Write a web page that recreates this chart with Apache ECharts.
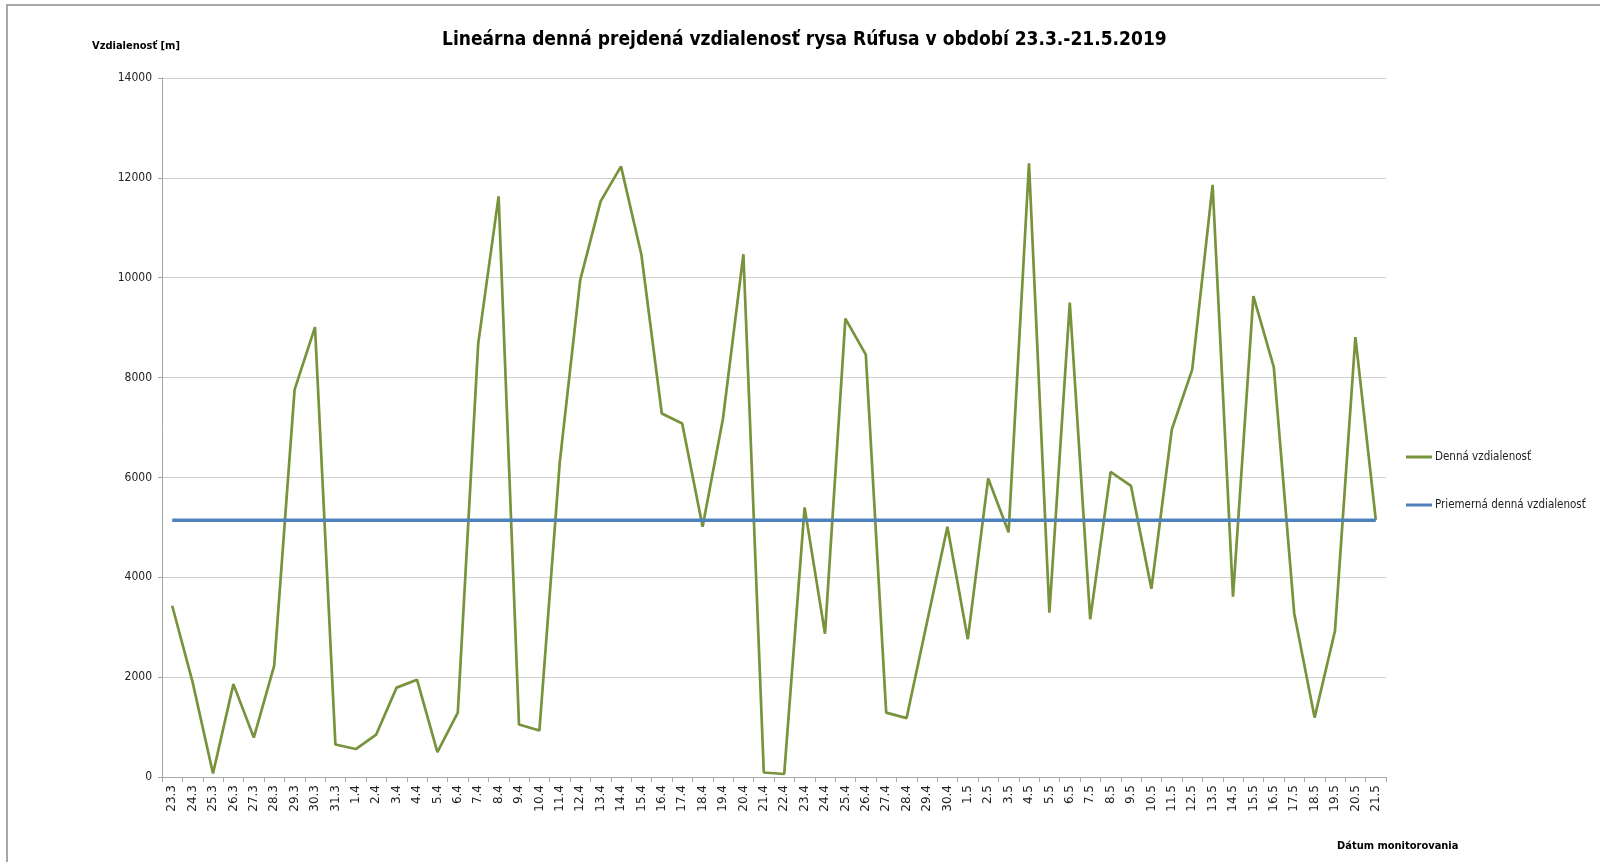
<!DOCTYPE html>
<html>
<head>
<meta charset="utf-8">
<title>Denná vzdialenosť rysa Rúfusa</title>
<script src="https://cdn.jsdelivr.net/npm/echarts@6/dist/echarts.min.js"></script>
<style>
  html, body { margin: 0; padding: 0; background: #fff; }
  #chart { width: 1600px; height: 862px; }
</style>
</head>
<body>
<div id="chart"></div>
<script>
  // dates of monitoring (day.month)
  const days = [
    "23.3", "24.3", "25.3", "26.3", "27.3", "28.3", "29.3", "30.3", "31.3",
    "1.4", "2.4", "3.4", "4.4", "5.4", "6.4", "7.4", "8.4", "9.4", "10.4",
    "11.4", "12.4", "13.4", "14.4", "15.4", "16.4", "17.4", "18.4", "19.4", "20.4",
    "21.4", "22.4", "23.4", "24.4", "25.4", "26.4", "27.4", "28.4", "29.4", "30.4",
    "1.5", "2.5", "3.5", "4.5", "5.5", "6.5", "7.5", "8.5", "9.5", "10.5",
    "11.5", "12.5", "13.5", "14.5", "15.5", "16.5", "17.5", "18.5", "19.5", "20.5", "21.5"
  ];

  // daily distance in metres
  const dailyDistance = [
    3430, 1900, 70, 1860, 790, 2230, 7760, 9010, 650,
    560, 850, 1790, 1950, 500, 1290, 8680, 11630, 1050, 930,
    6310, 9950, 11530, 12230, 10460, 7280, 7080, 5010, 7180, 10470,
    90, 60, 5400, 2870, 9180, 8460, 1290, 1180, 3100, 5010,
    2760, 5980, 4900, 12290, 3290, 9500, 3160, 6110, 5830, 3770,
    6960, 8160, 11860, 3610, 9630, 8210, 3280, 1190, 2930, 8810, 5150
  ];

  const averageDistance = 5140;

  const yMin = 0;
  const yMax = 14000;
  const yStep = 2000;

  const seriesNames = ["Denná vzdialenosť", "Priemerná denná vzdialenosť"];

  const narrow = "'DejaVu Sans Condensed', 'Liberation Sans Narrow', sans-serif";

  const chart = echarts.init(document.getElementById("chart"));

  chart.setOption({
    animation: false,
    backgroundColor: "#fff",
    title: [
      {
        text: "Lineárna denná prejdená vzdialenosť rysa Rúfusa v období 23.3.-21.5.2019",
        left: 442,
        top: 31,
        padding: 0,
        textStyle: { fontFamily: narrow, fontWeight: "bold", fontSize: 19, color: "#000" }
      },
      {
        text: "Vzdialenosť [m]",
        left: 92,
        top: 41,
        padding: 0,
        textStyle: { fontFamily: narrow, fontWeight: "bold", fontSize: 11, color: "#000" }
      },
      {
        text: "Dátum monitorovania",
        left: 1337,
        top: 841,
        padding: 0,
        textStyle: { fontFamily: narrow, fontWeight: "bold", fontSize: 11, color: "#000" }
      }
    ],
    legend: {
      orient: "vertical",
      left: 1401,
      top: 446,
      itemGap: 36,
      itemWidth: 26,
      itemHeight: 3,
      icon: "rect",
      textStyle: { fontFamily: narrow, fontSize: 11.5, color: "#222", padding: [0, 0, 0, -2] },
      data: seriesNames
    },
    grid: { left: 162, right: 214, top: 78, bottom: 85, containLabel: false },
    xAxis: {
      type: "category",
      data: days,
      boundaryGap: true,
      axisLine: { lineStyle: { color: "#a6a6a6", width: 1 } },
      axisTick: { show: true, length: 5, lineStyle: { color: "#a6a6a6" } },
      axisLabel: {
        rotate: 90,
        interval: 0,
        margin: 8,
        fontFamily: "'DejaVu Sans', sans-serif",
        fontSize: 12,
        color: "#222"
      },
      splitLine: { show: false }
    },
    yAxis: {
      type: "value",
      min: yMin,
      max: yMax,
      interval: yStep,
      axisLine: { show: true, lineStyle: { color: "#a6a6a6", width: 1 } },
      axisTick: { show: true, length: 4, lineStyle: { color: "#a6a6a6" } },
      axisLabel: {
        fontFamily: narrow,
        fontSize: 12,
        color: "#222",
        margin: 10,
        formatter: (v) => String(v)
      },
      splitLine: { lineStyle: { color: "#d0d0d0", width: 1 } }
    },
    series: [
      {
        name: seriesNames[0],
        type: "line",
        data: dailyDistance,
        showSymbol: false,
        symbol: "none",
        lineStyle: { color: "#77933c", width: 2.7 },
        itemStyle: { color: "#77933c" }
      },
      {
        name: seriesNames[1],
        type: "line",
        data: days.map(() => averageDistance),
        showSymbol: false,
        symbol: "none",
        lineStyle: { color: "#4f81bd", width: 3.5 },
        itemStyle: { color: "#4f81bd" }
      }
    ],
    graphic: [
      {
        type: "polyline",
        shape: { points: [[7, 862], [7, 5], [1600, 5]] },
        style: { stroke: "#8c8c8c", lineWidth: 1.5, fill: null },
        silent: true
      }
    ]
  });
</script>
</body>
</html>
